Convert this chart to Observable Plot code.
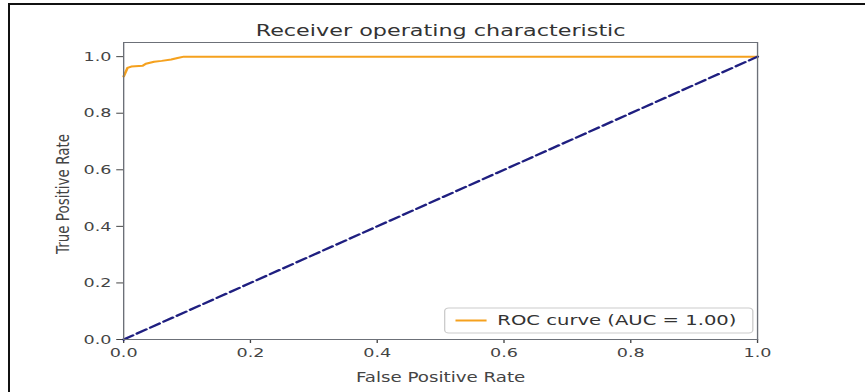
<!DOCTYPE html>
<html>
<head>
<meta charset="utf-8">
<script src="https://cdn.jsdelivr.net/npm/d3@7"></script>
<script src="https://cdn.jsdelivr.net/npm/@observablehq/plot@0.6"></script>
<style>
  html, body { margin: 0; padding: 0; background: #fff; }
  #wrap { position: relative; width: 865px; height: 392px; overflow: hidden; }
  #topline { position: absolute; left: 8px; top: 3px; width: 857px; height: 2px; background: #111; }
  #leftline { position: absolute; left: 8px; top: 3px; width: 2px; height: 389px; background: #111; }
</style>
</head>
<body>
<div id="wrap"><div id="topline"></div><div id="leftline"></div></div>
<script>
// Data
const fpr = [0, 0.006, 0.012, 0.03, 0.035, 0.048, 0.06, 0.075, 0.085, 0.095, 1.0];
const tpr = [0.93, 0.96, 0.965, 0.968, 0.975, 0.982, 0.985, 0.99, 0.995, 1.0, 1.0];
const diagX = [0, 1];
const diagY = [0, 1];
const xTicks = [0, 0.2, 0.4, 0.6, 0.8, 1.0];
const yTicks = [0, 0.2, 0.4, 0.6, 0.8, 1.0];
const titleText = "Receiver operating characteristic";
const xLabel = "False Positive Rate";
const yLabel = "True Positive Rate";
const legendLabel = "ROC curve (AUC = 1.00)";

const roc = fpr.map((x, i) => ({x, y: tpr[i]}));
const diag = diagX.map((x, i) => ({x, y: diagY[i]}));

const W = 640, H = 392, OUTW = 865;
const rocColor = "#f5a11e";

const chart = Plot.plot({
  width: W, height: H,
  marginLeft: 91, marginRight: 80, marginTop: 42, marginBottom: 53,
  style: {fontFamily: "DejaVu Sans", fontSize: "13px", color: "#444", background: "transparent"},
  x: {domain: [0, 1], ticks: xTicks, tickFormat: d3.format(".1f"), tickSize: 4, tickPadding: 4, label: null},
  y: {domain: [0, 1.05], ticks: yTicks, tickFormat: d3.format(".1f"), tickSize: 5, tickPadding: 4, label: null},
  marks: [
    Plot.line(roc, {x: "x", y: "y", stroke: rocColor, strokeWidth: 2}),
    Plot.line(diag, {x: "x", y: "y", stroke: "#1f1f80", strokeWidth: 2.2, strokeDasharray: "8,3.5"}),
    Plot.frame({stroke: "#6c7078", strokeWidth: 1}),
    Plot.text([titleText], {frameAnchor: "top", lineAnchor: "middle", textAnchor: "middle", dy: -12, fontSize: 16.5, fill: "#333"}),
    Plot.text([xLabel], {frameAnchor: "bottom", lineAnchor: "middle", textAnchor: "middle", dy: 38, fontSize: 13.5, fill: "#444"}),
    Plot.text([yLabel], {frameAnchor: "left", lineAnchor: "middle", textAnchor: "middle", dx: -45, dy: 3, rotate: -90, fontSize: 13.5, fill: "#444"})
  ]
});

// legend (matplotlib style, lower right)
const svg = d3.select(chart);
const lg = svg.append("g").attr("font-family", "DejaVu Sans");
lg.append("rect").attr("x", 329).attr("y", 308).attr("width", 228).attr("height", 25)
  .attr("rx", 3).attr("fill", "white").attr("fill-opacity", 0.85).attr("stroke", "#ccc");
lg.append("line").attr("x1", 337).attr("x2", 360).attr("y1", 320.5).attr("y2", 320.5)
  .attr("stroke", rocColor).attr("stroke-width", 2);
lg.append("text").attr("x", 368).attr("y", 321).attr("dominant-baseline", "middle")
  .attr("text-anchor", "start").attr("font-size", 14.5).attr("fill", "#333").text(legendLabel);

// reference image is horizontally stretched; reproduce that
chart.setAttribute("preserveAspectRatio", "none");
chart.style.width = OUTW + "px";
chart.style.height = H + "px";
chart.style.maxWidth = "none";
chart.style.position = "absolute";
chart.style.left = "0px";
chart.style.top = "0px";
document.getElementById("wrap").appendChild(chart);
</script>
</body>
</html>
